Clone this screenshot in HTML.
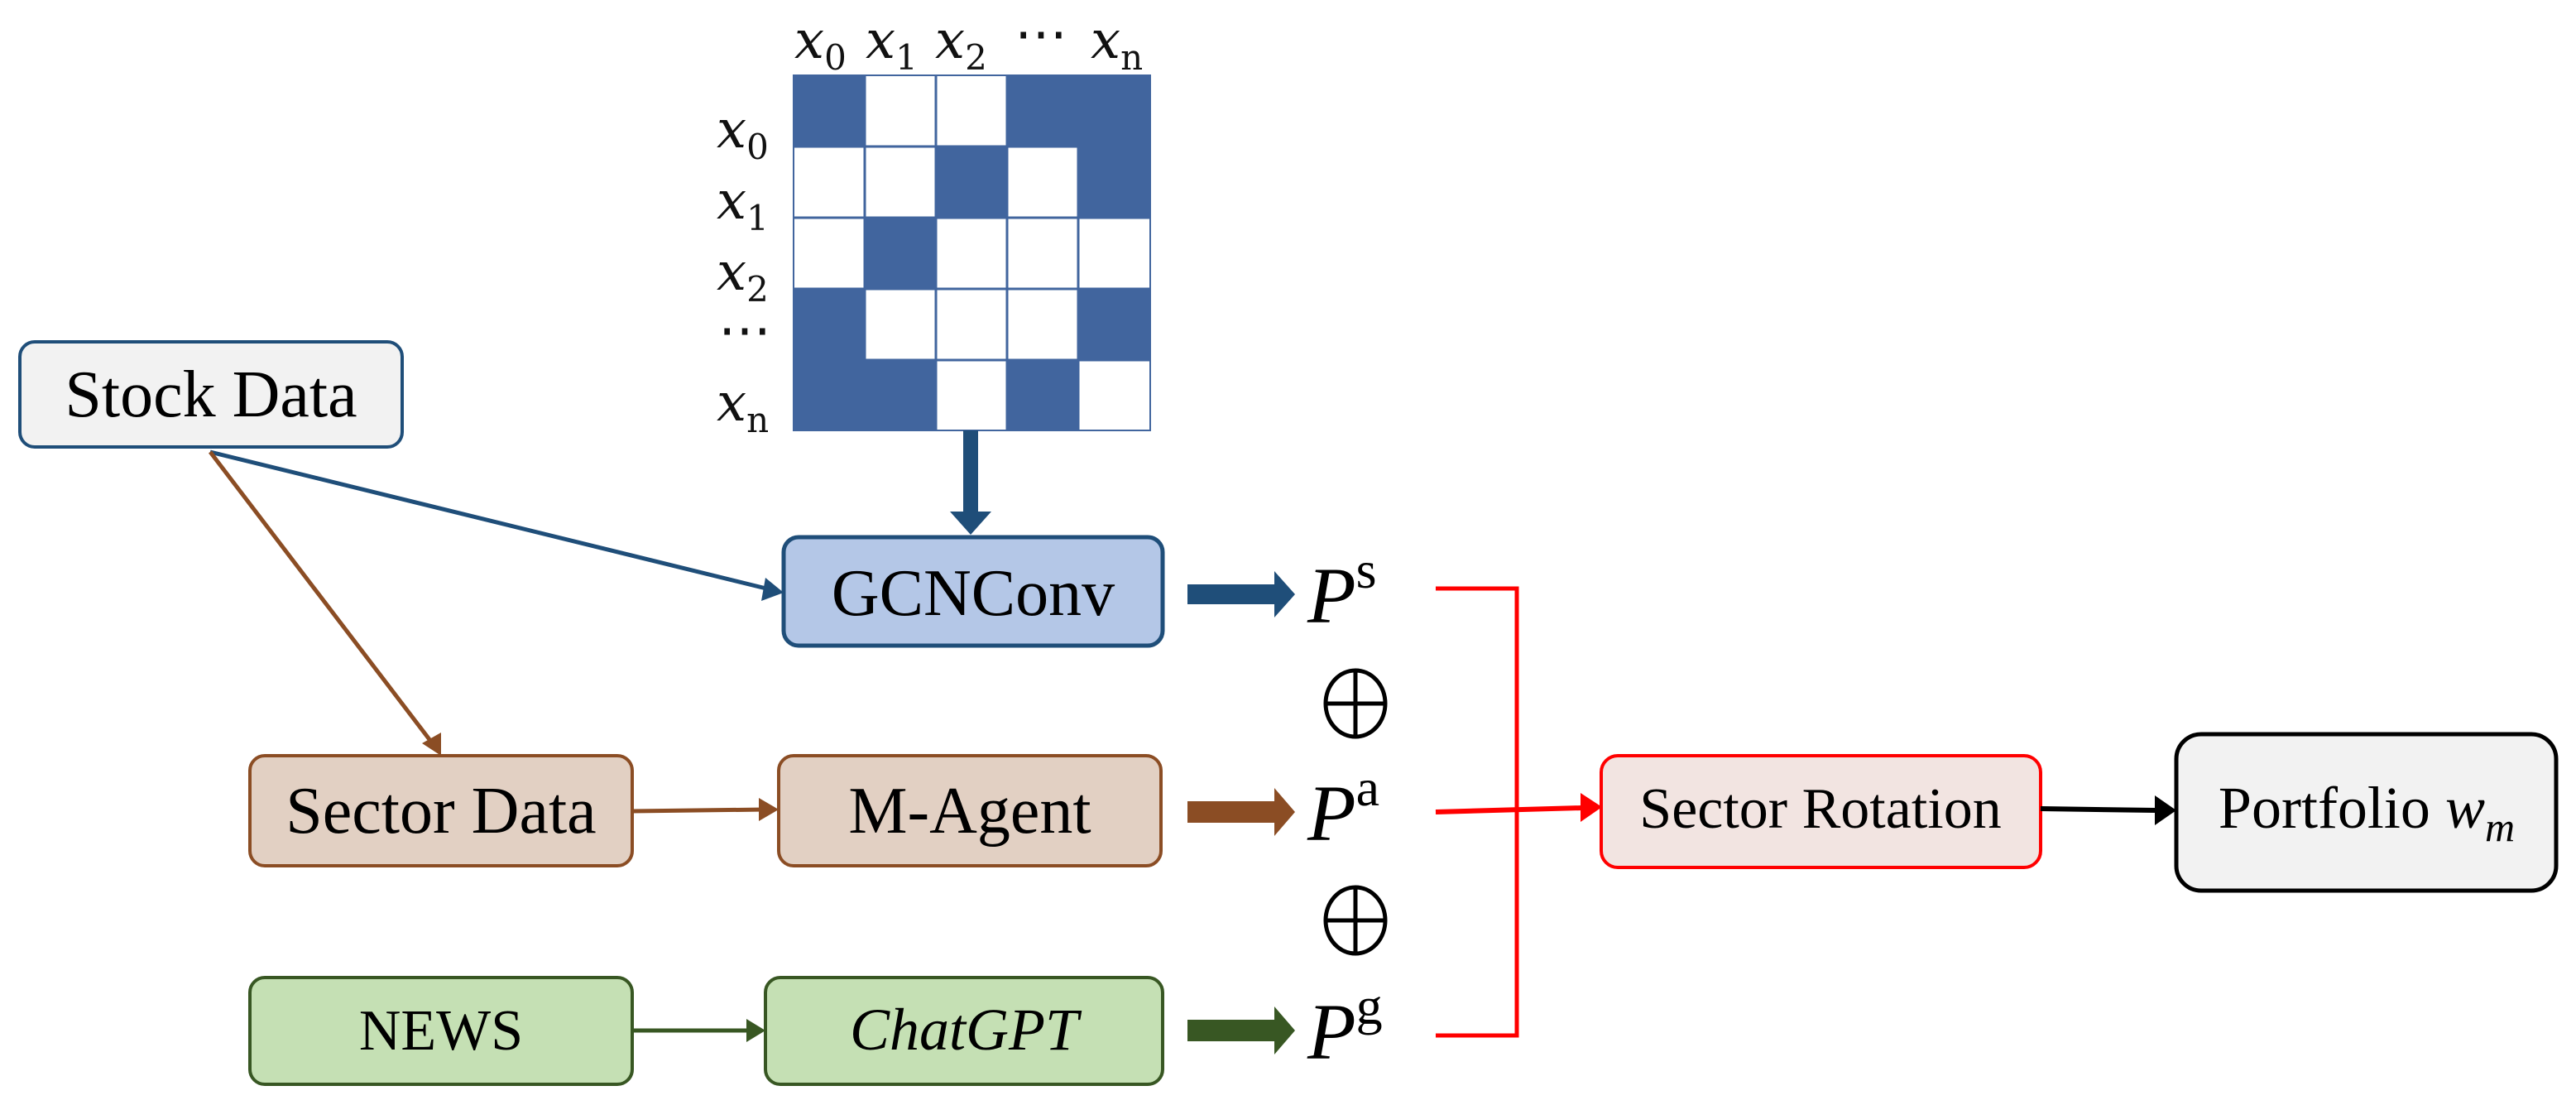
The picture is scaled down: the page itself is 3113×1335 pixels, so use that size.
<!DOCTYPE html>
<html><head><meta charset="utf-8"><style>html,body{margin:0;padding:0;background:#fff}svg{display:block}</style></head>
<body>
<svg width="3113" height="1335" viewBox="0 0 3113 1335" xmlns="http://www.w3.org/2000/svg" font-family="Liberation Serif, serif">
<!-- matrix -->
<rect x="959" y="91" width="431" height="429" fill="#fff"/>
<g stroke="#41659e" stroke-width="3" fill="none">
<path d="M1045 91V520M1131 91V520M1217 91V520M1303 91V520M959 177H1390M959 263H1390M959 349H1390M959 435H1390"/>
</g>
<g fill="#41659e">
<rect x="959" y="91" width="86" height="86"/><rect x="1217" y="91" width="173" height="86"/>
<rect x="1131" y="177" width="86" height="86"/><rect x="1303" y="177" width="87" height="86"/>
<rect x="1303" y="160" width="87" height="30"/>
<rect x="1045" y="263" width="86" height="86"/>
<rect x="959" y="349" width="86" height="86"/><rect x="1303" y="349" width="87" height="86"/>
<rect x="959" y="435" width="172" height="85"/><rect x="1217" y="435" width="86" height="85"/>
<rect x="959" y="420" width="86" height="30"/>
</g>
<rect x="959" y="91" width="431" height="429" fill="none" stroke="#41659e" stroke-width="2"/>
<g font-family="DejaVu Serif, serif" font-style="italic" font-size="64" fill="#111">
<text x="960" y="70">x<tspan font-size="42" font-style="normal" dy="14">0</tspan></text>
<text x="1046" y="70">x<tspan font-size="42" font-style="normal" dy="14">1</tspan></text>
<text x="1130" y="70">x<tspan font-size="42" font-style="normal" dy="14">2</tspan></text>
<text x="1226" y="62" font-style="normal">⋯</text>
<text x="1318" y="70">x<tspan font-size="42" font-style="normal" dy="14">n</tspan></text>
<text x="866" y="178">x<tspan font-size="42" font-style="normal" dy="14">0</tspan></text>
<text x="866" y="264">x<tspan font-size="42" font-style="normal" dy="14">1</tspan></text>
<text x="866" y="350">x<tspan font-size="42" font-style="normal" dy="14">2</tspan></text>
<text x="868" y="420" font-style="normal">⋯</text>
<text x="866" y="508">x<tspan font-size="42" font-style="normal" dy="14">n</tspan></text>
</g>
<!-- matrix down arrow -->
<rect x="1164" y="520" width="18" height="100" fill="#1f4e79"/>
<path d="M1148 618 L1198 618 L1173 646 z" fill="#1f4e79"/>
<!-- boxes -->
<rect x="24" y="413" width="462" height="127" rx="18" fill="#f2f2f2" stroke="#1f4e79" stroke-width="4"/>
<text x="255" y="503" font-size="80" text-anchor="middle">Stock Data</text>
<rect x="947" y="649" width="458" height="131" rx="18" fill="#b4c7e7" stroke="#1f4e79" stroke-width="5"/>
<text x="1176" y="743" font-size="80" text-anchor="middle">GCNConv</text>
<rect x="302" y="913" width="462" height="133" rx="18" fill="#e2d0c3" stroke="#8b4d24" stroke-width="4"/>
<text x="533" y="1006" font-size="80" text-anchor="middle">Sector Data</text>
<rect x="941" y="913" width="462" height="133" rx="18" fill="#e2d0c3" stroke="#8b4d24" stroke-width="4"/>
<text x="1172" y="1006" font-size="80" text-anchor="middle">M-Agent</text>
<rect x="302" y="1181" width="462" height="129" rx="18" fill="#c5e0b4" stroke="#385723" stroke-width="4"/>
<text x="533" y="1268" font-size="70" text-anchor="middle">NEWS</text>
<rect x="925" y="1181" width="480" height="129" rx="18" fill="#c5e0b4" stroke="#385723" stroke-width="4"/>
<text x="1165" y="1268" font-size="72" font-style="italic" text-anchor="middle">ChatGPT</text>
<rect x="1935" y="913" width="531" height="135" rx="20" fill="#f2e4e1" stroke="#ff0000" stroke-width="4"/>
<text x="2200" y="1000" font-size="70" text-anchor="middle">Sector Rotation</text>
<rect x="2630" y="887" width="459" height="189" rx="30" fill="#f2f2f2" stroke="#000" stroke-width="5"/>
<text x="2860" y="1000" font-size="72" text-anchor="middle">Portfolio <tspan font-style="italic">w</tspan><tspan font-style="italic" font-size="50" dy="16">m</tspan></text>
<!-- connectors -->
<line x1="254" y1="546" x2="930" y2="712" stroke="#1f4e79" stroke-width="5"/>
<path d="M947 716 L920 726 L925 698 z" fill="#1f4e79"/>
<line x1="254" y1="546" x2="524" y2="900" stroke="#8b4d24" stroke-width="5"/>
<path d="M533 913 L510 898 L533 885 z" fill="#8b4d24"/>
<line x1="764" y1="980" x2="925" y2="978" stroke="#8b4d24" stroke-width="5"/>
<path d="M941 978 L917 964 L917 992 z" fill="#8b4d24"/>
<line x1="764" y1="1245" x2="910" y2="1245" stroke="#385723" stroke-width="5"/>
<path d="M925 1245 L902 1231 L902 1259 z" fill="#385723"/>
<!-- block arrows -->
<path d="M1435 706 H1540 V690 L1565 718 L1540 746 V730 H1435 z" fill="#1f4e79"/>
<path d="M1435 968 H1540 V952 L1565 981 L1540 1010 V994 H1435 z" fill="#8b4d24"/>
<path d="M1435 1232 H1540 V1216 L1565 1245 L1540 1274 V1258 H1435 z" fill="#385723"/>
<!-- P labels -->
<g font-size="96" fill="#000">
<text x="1580" y="752" font-style="italic">P<tspan font-size="64" font-style="normal" dy="-42">s</tspan></text>
<text x="1580" y="1015" font-style="italic">P<tspan font-size="64" font-style="normal" dy="-42">a</tspan></text>
<text x="1580" y="1279" font-style="italic">P<tspan font-size="64" font-style="normal" dy="-42">g</tspan></text>
</g>
<g stroke="#000" stroke-width="5" fill="none">
<ellipse cx="1638" cy="850" rx="36" ry="40"/><path d="M1602 850H1674M1638 810V890"/>
<ellipse cx="1638" cy="1112" rx="36" ry="40"/><path d="M1602 1112H1674M1638 1072V1152"/>
</g>
<!-- red bracket -->
<path d="M1735 711 H1833 V1251 H1735" stroke="#ff0000" stroke-width="5" fill="none"/>
<line x1="1735" y1="981" x2="1912" y2="976" stroke="#ff0000" stroke-width="6"/>
<path d="M1936 975 L1910 958 L1910 993 z" fill="#ff0000"/>
<line x1="2466" y1="977" x2="2605" y2="979" stroke="#000" stroke-width="6"/>
<path d="M2630 979 L2604 961 L2604 997 z" fill="#000"/>
</svg>
</body></html>
